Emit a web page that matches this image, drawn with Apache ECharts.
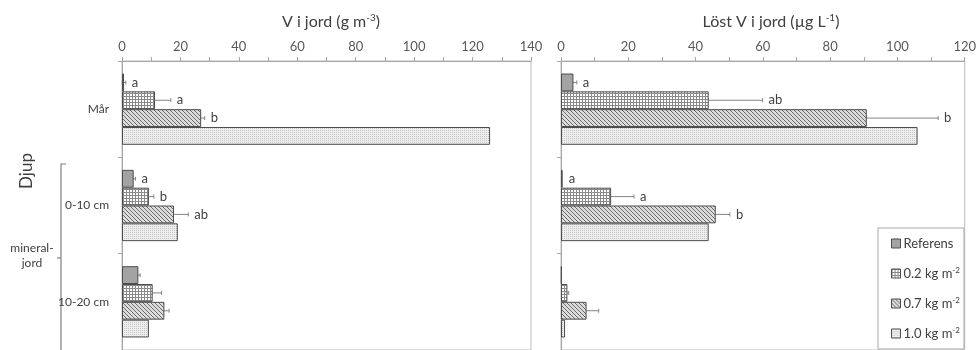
<!DOCTYPE html>
<html><head><meta charset="utf-8">
<script src="https://cdn.jsdelivr.net/npm/echarts@6/dist/echarts.min.js"></script>
<style>html,body{margin:0;padding:0;background:#fff}#c{width:979px;height:350px}</style>
</head><body><div id="c"></div>
<script>
// ---- data ----
const categories = ['Mår', '0-10 cm', '10-20 cm'];
const seriesNames = ['Referens', '0.2 kg m-2', '0.7 kg m-2', '1.0 kg m-2'];
// left: V i jord (g m-3) ; rows = series, cols = categories
const leftRef  = [0.7, 4.0, 5.6];
const left02   = [11.3, 9.2, 10.5];
const left07   = [27.1, 17.8, 14.5];
const left10   = [126, 19.1, 9.2];
const leftErrRef = [0.6, 0.6, 0.6];
const leftErr02  = [5.4, 1.7, 3.0];
const leftErr07  = [1.2, 4.9, 1.6];
const leftErr10  = [0, 0, 0];
const leftLetRef = ['a', 'a', ''];
const leftLet02  = ['a', 'b', ''];
const leftLet07  = ['b', 'ab', ''];
const leftLet10  = ['', '', ''];
// right: Löst V i jord (µg L-1)
const rightRef = [3.7, 0.5, 0.2];
const right02  = [43.9, 14.9, 1.9];
const right07  = [90.9, 46.0, 7.6];
const right10  = [106, 43.9, 1.2];
const rightErrRef = [1.0, 0, 0];
const rightErr02  = [16.0, 6.8, 0.4];
const rightErr07  = [21.2, 4.2, 3.6];
const rightErr10  = [0, 0, 0];
const rightLetRef = ['a', 'a', ''];
const rightLet02  = ['ab', 'a', ''];
const rightLet07  = ['b', 'b', ''];
const rightLet10  = ['', '', ''];
const leftTicks = {min: 0, max: 140, interval: 20};
const rightTicks = {min: 0, max: 120, interval: 20};

// ---- patterns ----
function tile(w, h, draw) { const c = document.createElement('canvas'); c.width = w; c.height = h; const g = c.getContext('2d'); draw(g); return c; }
const patRef = '#a3a3a3';
const pat02 = {image: tile(3, 3, g => { g.fillStyle = '#ffffff'; g.fillRect(0,0,3,3); g.fillStyle = '#8a8a8a'; g.fillRect(0,0,3,1); g.fillRect(0,0,1,3); }), repeat: 'repeat'};
const pat07 = {image: tile(4, 4, g => { g.fillStyle = '#dcdcdc'; g.fillRect(0,0,4,4); g.fillStyle = '#6a6a6a'; for (let i=0;i<4;i++) g.fillRect(i,i,1,1); }), repeat: 'repeat'};
const pat10 = {image: tile(2, 2, g => { g.fillStyle = '#eeeeee'; g.fillRect(0,0,2,2); g.fillStyle = '#c4c4c4'; g.fillRect(0,0,1,1); }), repeat: 'repeat'};
const fills = [patRef, pat02, pat07, pat10];

const FONT = 'Lato';
const FW = 400;
const TXT = '#404040';
const CAT_GAP = 0.26;
const left = {vals: [leftRef, left02, left07, left10], errs: [leftErrRef, leftErr02, leftErr07, leftErr10], lets: [leftLetRef, leftLet02, leftLet07, leftLet10]};
const right = {vals: [rightRef, right02, right07, right10], errs: [rightErrRef, rightErr02, rightErr07, rightErr10], lets: [rightLetRef, rightLet02, rightLet07, rightLet10]};

const series = [];
[left, right].forEach((panel, gi) => {
  panel.vals.forEach((vals, s) => {
    series.push({
      type: 'bar', name: seriesNames[s], xAxisIndex: gi, yAxisIndex: gi,
      data: vals, barGap: 0, barCategoryGap: (CAT_GAP*100) + '%',
      itemStyle: {color: fills[s], borderColor: '#4d4d4d', borderWidth: 1},
      emphasis: {disabled: true}, animation: false
    });
  });
  panel.vals.forEach((vals, s) => {
    series.push({
      type: 'custom', xAxisIndex: gi, yAxisIndex: gi, animation: false, silent: true,
      data: vals.map((v, i) => [v, i, panel.errs[s][i]]),
      encode: {x: 0, y: 1},
      renderItem: function (params, api) {
        const val = api.value(0), cat = api.value(1), err = api.value(2);
        const c = api.coord([val, cat]);
        const band = api.size([0, 1])[1];
        const bw = band * (1 - CAT_GAP) / 4;
        const y = c[1] + (s - 1.5) * bw;
        const children = [];
        let endX = c[0];
        if (err > 0) {
          const x1 = api.coord([val - err, cat])[0], x2 = api.coord([val + err, cat])[0];
          const st = {stroke: '#858585', lineWidth: 1};
          children.push({type: 'line', shape: {x1: x1, y1: y, x2: x2, y2: y}, style: st});
          children.push({type: 'line', shape: {x1: x1, y1: y - 2, x2: x1, y2: y + 2}, style: st});
          children.push({type: 'line', shape: {x1: x2, y1: y - 2, x2: x2, y2: y + 2}, style: st});
          endX = x2;
        }
        const letter = panel.lets[s][params.dataIndex];
        if (letter) {
          children.push({type: 'text', x: endX + 6, y: y, style: {text: letter, fill: TXT, font: FW + ' 13px ' + FONT, verticalAlign: 'middle', align: 'left'}});
        }
        return {type: 'group', children: children};
      }
    });
  });
});

function xAxisCfg(gi, t) {
  return {
    type: 'value', gridIndex: gi, position: 'top', min: t.min, max: t.max, interval: t.interval,
    axisLine: {show: true, lineStyle: {color: '#a6a6a6'}},
    axisTick: {show: true, inside: false, length: 4, lineStyle: {color: '#a6a6a6'}},
    minorTick: {show: true, splitNumber: 2, length: 4, lineStyle: {color: '#a6a6a6'}},
    splitLine: {show: false},
    axisLabel: {color: '#595959', fontSize: 13, fontWeight: FW, fontFamily: FONT, margin: 8}
  };
}
function yAxisCfg(gi, showLabels) {
  return {
    type: 'category', gridIndex: gi, data: categories, inverse: true,
    axisLine: {show: true, lineStyle: {color: '#a6a6a6'}},
    axisTick: {show: true, length: 4, lineStyle: {color: '#a6a6a6'}},
    axisLabel: {show: showLabels, color: TXT, fontSize: 12, fontWeight: FW, fontFamily: FONT, margin: 13}
  };
}

const titleRich = {t: {fontSize: 16, fontWeight: FW, color: TXT, fontFamily: FONT}, s: {fontSize: 10, fontWeight: FW, color: TXT, fontFamily: FONT, padding: [0,0,8,0]}};
const legendRich = {n: {fontSize: 13, fontWeight: FW, color: TXT, fontFamily: FONT}, s: {fontSize: 8, fontWeight: FW, color: TXT, fontFamily: FONT, padding: [0,0,6,0]}};

const option = {
  animation: false,
  grid: [
    {left: 122, top: 61, width: 409, height: 294, show: true, borderColor: '#bfbfbf', borderWidth: 1, backgroundColor: 'transparent'},
    {left: 561, top: 61, width: 408, height: 294, show: true, borderColor: '#bfbfbf', borderWidth: 1, backgroundColor: 'transparent'}
  ],
  xAxis: [xAxisCfg(0, leftTicks), xAxisCfg(1, rightTicks)],
  yAxis: [yAxisCfg(0, true), yAxisCfg(1, false)],
  title: [
    {text: '{t|V i jord (g m}{s|-3}{t|)}', left: 326, top: 8, textAlign: 'center', textStyle: {fontWeight: 'normal', rich: titleRich}},
    {text: '{t|Löst V i jord (µg L}{s|-1}{t|)}', left: 766, top: 8, textAlign: 'center', textStyle: {fontWeight: 'normal', rich: titleRich}}
  ],
  legend: {
    data: seriesNames, orient: 'vertical', left: 878, top: 228, icon: 'rect',
    itemWidth: 9, itemHeight: 9, itemGap: 15,
    padding: [8, 4, 8, 13], borderColor: '#a6a6a6', borderWidth: 1, backgroundColor: '#fff',
    selectedMode: false,
    itemStyle: {borderColor: '#4d4d4d', borderWidth: 1},
    formatter: function (n) {
      const m = n.match(/^(.*m)(-\d)$/);
      return m ? '{n|' + m[1] + '}{s|' + m[2] + '}' : '{n|' + n + '}';
    },
    textStyle: {rich: legendRich, lineHeight: 15, height: 15, padding: [0,0,0,-2]}
  },
  graphic: [
    {type: 'text', x: 27, y: 171, rotation: Math.PI / 2, style: {text: 'Djup', font: FW + ' 17px ' + FONT, fill: TXT, align: 'center', verticalAlign: 'middle'}},
    {type: 'polyline', shape: {points: [[66, 164], [61, 164], [61, 360]]}, style: {stroke: '#808080', lineWidth: 1.2, fill: null}},
    {type: 'line', shape: {x1: 57, y1: 258, x2: 61, y2: 258}, style: {stroke: '#808080', lineWidth: 1.2}},
    {type: 'text', x: 32, y: 248, style: {text: 'mineral-', font: FW + ' 12px ' + FONT, fill: TXT, align: 'center', verticalAlign: 'middle'}},
    {type: 'text', x: 32, y: 263, style: {text: 'jord', font: FW + ' 12px ' + FONT, fill: TXT, align: 'center', verticalAlign: 'middle'}}
  ],
  series: series
};
const chart = echarts.init(document.getElementById('c'), null, {renderer: 'canvas'});
chart.setOption(option);
</script></body></html>
